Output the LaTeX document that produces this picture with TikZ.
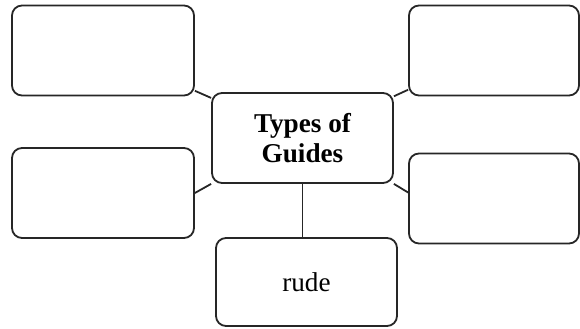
\documentclass[tikz,border=0pt]{standalone}
\usepackage{fontspec}
\setmainfont{Liberation Serif}
\usepackage{tikz}
\usetikzlibrary{positioning}

\begin{document}
\begin{tikzpicture}[
        x=0.5pt, y=0.5pt,
        box/.style={draw=black!85, line width=0.9pt, rounded corners=5pt, inner sep=0pt, minimum width=91pt, minimum height=45pt, align=center, font=\fontsize{13.6}{15}\selectfont},
        hub/.style={box, font=\fontsize{13.6}{15}\selectfont\bfseries},
        link/.style={draw=black!85, line width=0.9pt}
    ]
        \useasboundingbox (0,0) rectangle (580,328);

        \node[hub, minimum width=90.5pt] (guides) at (302.5,190) {Types of\\Guides};
        \node[box] (upleft) at (103,277.5) {};
        \node[box, minimum width=85pt] (upright) at (494,277.5) {};
        \node[box] (midleft) at (103,135) {};
        \node[box, minimum width=85pt] (midright) at (494,129.5) {};
        \node[box, minimum width=90.5pt, minimum height=44pt] (rude) at (306.5,46) {rude};

        \draw[link] (upleft) -- (guides);
        \draw[link] (upright) -- (guides);
        \draw[link] (midleft.east) -- (guides.south west);
        \draw[link] (midright.176) -- (guides.south east);
        \draw[link] (guides.south) -- (guides.south |- rude.north);
    \end{tikzpicture}
\end{document}
